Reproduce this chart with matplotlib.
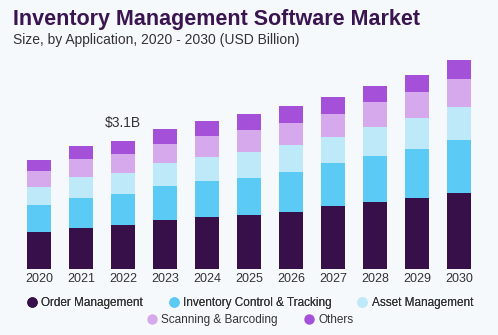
import matplotlib
matplotlib.use("Agg")
import matplotlib.pyplot as plt
from matplotlib.lines import Line2D
import numpy as np

plt.rcParams["font.family"] = ["Liberation Sans", "DejaVu Sans"]

years = ["2020", "2021", "2022", "2023", "2024", "2025", "2026", "2027", "2028", "2029", "2030"]
order_mgmt = [0.89, 1.00, 1.07, 1.18, 1.25, 1.30, 1.38, 1.52, 1.62, 1.72, 1.84]
inv_control = [0.65, 0.72, 0.75, 0.82, 0.87, 0.90, 0.97, 1.05, 1.12, 1.19, 1.28]
asset_mgmt = [0.43, 0.50, 0.51, 0.56, 0.59, 0.63, 0.65, 0.62, 0.70, 0.73, 0.80]
scanning = [0.39, 0.43, 0.44, 0.47, 0.50, 0.52, 0.53, 0.55, 0.60, 0.64, 0.68]
others = [0.27, 0.31, 0.33, 0.35, 0.36, 0.39, 0.40, 0.41, 0.39, 0.41, 0.45]

series = [order_mgmt, inv_control, asset_mgmt, scanning, others]
names = ["Order Management", "Inventory Control & Tracking", "Asset Management",
         "Scanning & Barcoding", "Others"]
colors = ["#37104A", "#5BCBF5", "#BDE9F8", "#D5A9EB", "#A450D8"]

bg = "#F5F9FC"
fig = plt.figure(figsize=(4.98, 3.35), dpi=100, facecolor=bg)
ax = fig.add_axes([18 / 498, 66 / 335, 462 / 498, 214 / 335], facecolor=bg)

x = np.arange(len(years))
bottom = np.zeros(len(years))
for vals, c in zip(series, colors):
    ax.bar(x, vals, 0.57, bottom=bottom, color=c, linewidth=0)
    bottom += np.array(vals)

# annotate 2022 total
ax.text(x[2], bottom[2] + 0.25, "$3.1B", ha="center", va="bottom", fontsize=10, color="#333333")

ax.set_xlim(-0.5, 10.5)
ax.set_ylim(0, 214 / 41.4)
ax.set_xticks(x)
ax.set_xticklabels(years, fontsize=9, color="#333333")
ax.tick_params(axis="x", length=0, pad=3)
ax.set_yticks([])
for s in ax.spines.values():
    s.set_visible(False)

fig.text(13 / 498, 1 - 19 / 335, "Inventory Management Software Market", fontsize=15.5,
         fontweight="bold", color="#3A1550", va="center", ha="left")
fig.text(13 / 498, 1 - 40 / 335, "Size, by Application, 2020 - 2030 (USD Billion)", fontsize=10,
         color="#333333", va="center", ha="left")

handles = [Line2D([], [], marker="o", linestyle="", markersize=6.5, color=c) for c in colors]
leg1 = fig.legend(handles[:3], names[:3], loc="center", bbox_to_anchor=(0.5, 1 - 303 / 335),
                  ncol=3, frameon=False, fontsize=8.5, handletextpad=0.2, columnspacing=2.0,
                  handlelength=1.2, labelcolor="#333333")
leg2 = fig.legend(handles[3:], names[3:], loc="center", bbox_to_anchor=(0.5, 1 - 320 / 335),
                  ncol=2, frameon=False, fontsize=8.5, handletextpad=0.2, columnspacing=2.0,
                  handlelength=1.2, labelcolor="#333333")
fig.add_artist(leg1)

fig.savefig("out.png", dpi=100, facecolor=bg)
